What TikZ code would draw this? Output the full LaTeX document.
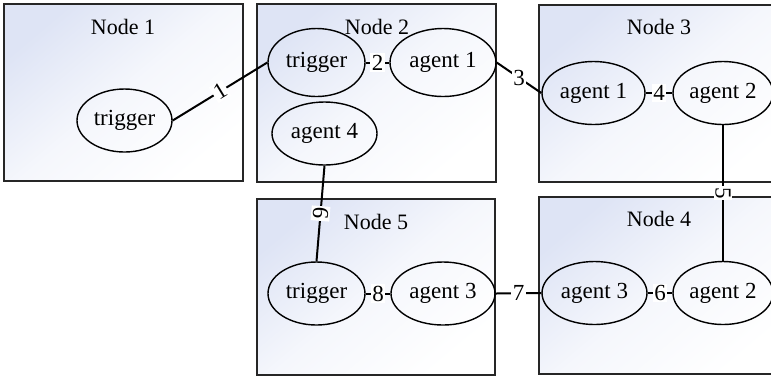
\documentclass[tikz,border=0pt]{standalone}
\usepackage{fontspec}
\setmainfont{Liberation Serif}
\usetikzlibrary{shapes.geometric}
\definecolor{boxtint}{RGB}{222,228,245}
\tikzset{
  hostbox/.style={draw=black!85,line width=0.8pt,shading=axis,top color=boxtint,bottom color=white,middle color=boxtint!30!white,shading angle=40},
  hosttitle/.style={font=\fontsize{11}{13}\selectfont},
  proc/.style={ellipse,draw,line width=0.7pt,inner sep=0pt,minimum height=31.5pt,font=\fontsize{11.5}{13}\selectfont},
  link/.style={line width=1pt},
  lbl/.style={midway,fill=white,inner sep=0.8pt,font=\fontsize{11.5}{13}\selectfont}
}
\begin{document}
\begin{tikzpicture}[x=0.5pt,y=-0.5pt]
    \useasboundingbox (0,0) rectangle (771,377);
    \clip (0,0) rectangle (771,377);

    % hosts
    \draw [hostbox] (4,4) rectangle (243,181);
    \draw [hostbox] (257,4) rectangle (496,182);
    \draw [hostbox] (539,5) rectangle (790,182);
    \draw [hostbox] (539,197) rectangle (790,374);
    \draw [hostbox] (257,199) rectangle (495,375);

    \node [hosttitle] (h1) at (123,27) {Node 1};
    \node [hosttitle] (h2) at (377,27) {Node 2};
    \node [hosttitle] (h3) at (659,27) {Node 3};
    \node [hosttitle] (h4) at (659,219) {Node 4};
    \node [hosttitle] (h5) at (376,222) {Node 5};

    % processes
    \node [proc,minimum width=47.5pt] (t1) at (124.5,120.5) {trigger};
    \node [proc,minimum width=48.5pt,minimum height=34pt] (t2) at (316.5,62.5) {trigger};
    \node [proc,minimum width=53pt,minimum height=34pt] (a21) at (443,62.5) {agent 1};
    \node [proc,minimum width=52.5pt] (a24) at (324.5,133.5) {agent 4};
    \node [proc,minimum width=51.5pt] (a31) at (593.5,93) {agent 1};
    \node [proc,minimum width=50pt] (a32) at (723,93) {agent 2};
    \node [proc,minimum width=52.5pt] (a43) at (594.5,293) {agent 3};
    \node [proc,minimum width=50pt] (a42) at (723,293) {agent 2};
    \node [proc,minimum width=48.5pt] (t5) at (316.5,293.5) {trigger};
    \node [proc,minimum width=52pt] (a53) at (443,293.5) {agent 3};

    % links
    \draw [link] (t1.east) -- (t2.west) node [lbl,sloped] {1};
    \draw [link] (t2.east) -- (a21.west) node [lbl] {2};
    \draw [link] (a21.east) -- (a31.west) node [lbl] {3};
    \draw [link] (a31.east) -- (a32.west) node [lbl] {4};
    \draw [link] (a32.south) -- (a42.north) node [lbl,sloped] {5};
    \draw [link] (a43.east) -- (a42.west) node [lbl] {6};
    \draw [link] (a53.east) -- (a43.west) node [lbl] {7};
    \draw [link] (t5.east) -- (a53.west) node [lbl] {8};
    \draw [link] (a24.south) -- (t5.north) node [lbl,sloped] {9};
\end{tikzpicture}
\end{document}
